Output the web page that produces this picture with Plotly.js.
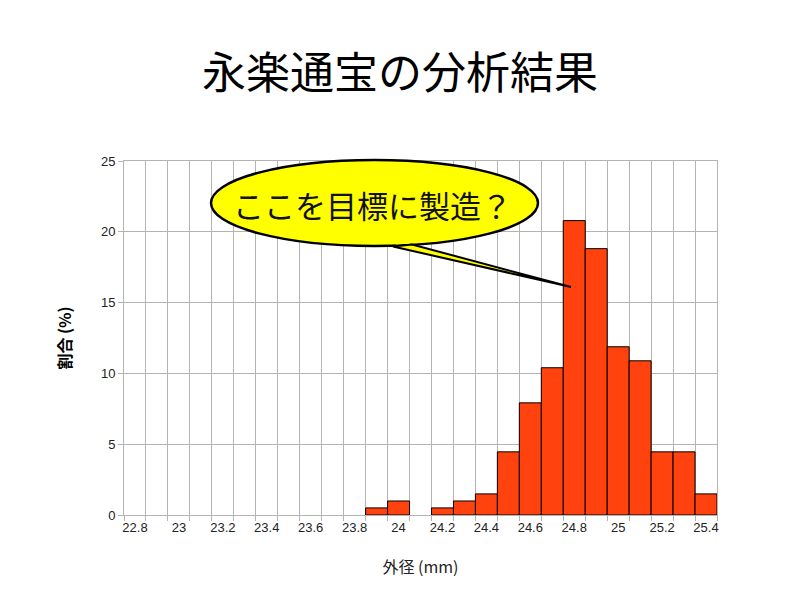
<!DOCTYPE html>
<html>
<head>
<meta charset="utf-8">
<script src="https://cdn.plot.ly/plotly-3.0.1.min.js"></script>
<style>html,body{margin:0;padding:0;background:#fff;}#chart{width:800px;height:600px;}</style>
</head>
<body>
<div id="chart"></div>
<script>
// Bin centres (mm) and share of coins (%)
const diameters = [23.9, 24.0, 24.1, 24.2, 24.3, 24.4, 24.5, 24.6, 24.7, 24.8, 24.9, 25.0, 25.1, 25.2, 25.3, 25.4];
const percents  = [0.50, 0.99, 0, 0.50, 0.99, 1.49, 4.46, 7.92, 10.40, 20.79, 18.81, 11.88, 10.89, 4.46, 4.46, 1.49];
const xTickVals  = [22.8, 23.0, 23.2, 23.4, 23.6, 23.8, 24.0, 24.2, 24.4, 24.6, 24.8, 25.0, 25.2, 25.4];
const xTickText  = ["22.8", "23", "23.2", "23.4", "23.6", "23.8", "24", "24.2", "24.4", "24.6", "24.8", "25", "25.2", "25.4"];
const chartTitle = "永楽通宝の分析結果";
const xTitle = "外径 (mm)";
const yTitle = "割合 (%)";
const calloutText = "ここを目標に製造？";

const trace = {
  type: "bar",
  x: diameters,
  y: percents,
  width: 0.1,
  marker: {color: "#ff420e", line: {color: "#000000", width: percents.map(v => v > 0 ? 1 : 0)}},
  hoverinfo: "x+y"
};

// helpers to map pixel positions to paper coordinates of the plot area
const L = 124, R = 717, T = 161, B = 515;
const px = v => (v - L) / (R - L);
const py = v => (B - v) / (B - T);

const layout = {
  width: 800, height: 600,
  margin: {l: L, r: 800 - R, t: T, b: 600 - B},
  paper_bgcolor: "#ffffff",
  plot_bgcolor: "#ffffff",
  showlegend: false,
  font: {family: "Liberation Sans, Arial, sans-serif", color: "#222222", size: 13},
  title: {text: chartTitle, font: {family: "Noto Sans CJK JP", size: 44, color: "#000000"}, x: 0.5, xanchor: "center", y: 0.878, yanchor: "middle"},
  xaxis: {
    range: [22.75, 25.45],
    tickmode: "array", tickvals: xTickVals, ticktext: xTickText,
    ticks: "", showgrid: false, zeroline: false,
    showline: true, linecolor: "#b3b3b3", linewidth: 1, mirror: true,
    minor: {tick0: 22.75, dtick: 0.1, showgrid: true, gridcolor: "#b3b3b3", gridwidth: 1, ticks: "outside", ticklen: 5, tickcolor: "#b3b3b3"},
    tickfont: {size: 13, color: "#222222"},
    title: {text: xTitle, font: {family: "Noto Sans CJK JP", size: 16, color: "#222222"}, standoff: 28},
    automargin: false, fixedrange: true
  },
  yaxis: {
    range: [0, 25], dtick: 5, tick0: 0,
    ticks: "outside", ticklen: 5, tickcolor: "#b3b3b3",
    showgrid: true, gridcolor: "#b3b3b3", gridwidth: 1, zeroline: false,
    showline: true, linecolor: "#b3b3b3", linewidth: 1, mirror: true,
    tickfont: {size: 13, color: "#222222"},
    title: {text: "<b>" + yTitle + "</b>", font: {family: "Noto Sans CJK JP", size: 16, color: "#000000"}, standoff: 25},
    automargin: false, fixedrange: true
  },
  shapes: [
    {type: "circle", xref: "paper", yref: "paper",
     x0: px(211), x1: px(538), y0: py(246), y1: py(160),
     fillcolor: "#ffff00", line: {color: "#000000", width: 2.5}, layer: "above"},
    {type: "path", xref: "paper", yref: "paper",
     path: "M " + px(393) + "," + py(246.5) + " L " + px(571) + "," + py(287) + " L " + px(412) + "," + py(244.5) + " Z",
     fillcolor: "#ffff00", line: {color: "#000000", width: 2}, layer: "above"},
    {type: "path", xref: "paper", yref: "paper",
     path: "M " + px(396) + "," + py(244.5) + " L " + px(409) + "," + py(243.5) + " L " + px(410) + "," + py(241) + " L " + px(395) + "," + py(242) + " Z",
     fillcolor: "#ffff00", line: {width: 0}, layer: "above"}
  ],
  annotations: [
    {xref: "paper", yref: "paper", x: px(372), y: py(204), text: calloutText, showarrow: false,
     xanchor: "center", yanchor: "middle", font: {family: "Noto Sans CJK JP", size: 31, color: "#111111"}}
  ]
};

Plotly.newPlot("chart", [trace], layout, {displayModeBar: false, staticPlot: true});
</script>
</body>
</html>
